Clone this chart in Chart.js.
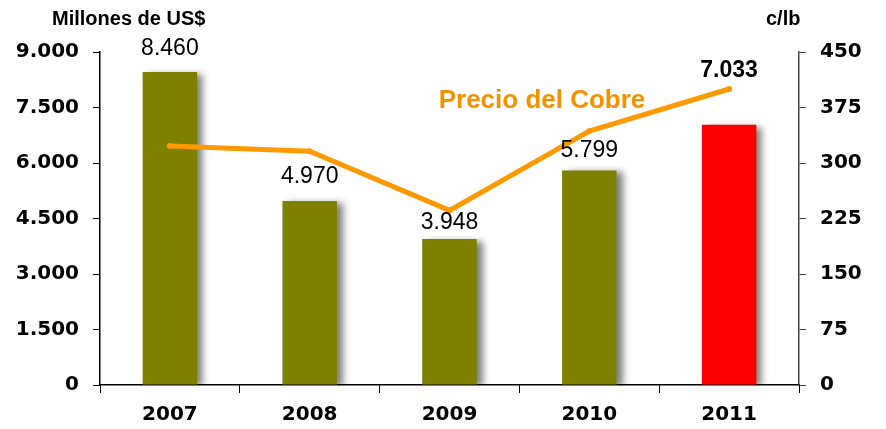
<!DOCTYPE html>
<html>
<head>
<meta charset="utf-8">
<script src="https://cdn.jsdelivr.net/npm/chart.js@4"></script>
<style>
  html, body { margin: 0; padding: 0; background: #fff; }
  #wrap { width: 886px; height: 429px; position: relative; }
</style>
</head>
<body>
<div id="wrap"><canvas id="myChart"></canvas></div>
<script>
// datos
const YEARS = ["2007", "2008", "2009", "2010", "2011"];
const EXPORTS = [8460, 4970, 3948, 5799, 7033]; // millones de US$
const COPPER = [323, 316, 236, 343, 400]; // c/lb
const LEFT_TICKS = [0, 1500, 3000, 4500, 6000, 7500, 9000];
const RIGHT_TICKS = [0, 75, 150, 225, 300, 375, 450];

const OLIVE = "#808000";
const RED = "#ff0000";
const ORANGE = "#ff9900";

const fmt = (v) => v.toLocaleString("de-DE");

// gap encima de cada barra para el rotulo
const labelGap = [17, 18, 10, 13, 48];

const barShadow = {
  id: "barShadow",
  beforeDatasetDraw(chart, args) {
    if (args.index !== 0) return;
    const c = chart.ctx;
    c.save();
    c.shadowColor = "rgba(0,0,0,0.5)";
    c.shadowBlur = 7;
    c.shadowOffsetX = 6;
    c.shadowOffsetY = 2;
  },
  afterDatasetDraw(chart, args) {
    if (args.index !== 0) return;
    chart.ctx.restore();
  },
};

const textos = {
  id: "textos",
  afterDatasetsDraw(chart) {
    const c = chart.ctx;
    const meta = chart.getDatasetMeta(0);
    c.save();
    c.textAlign = "center";
    c.textBaseline = "alphabetic";
    c.fillStyle = "#000";
    meta.data.forEach((bar, i) => {
      const last = i === EXPORTS.length - 1;
      c.font = (last ? "bold " : "") + "23px 'Liberation Sans', Arial, sans-serif";
      c.fillText(fmt(EXPORTS[i]), bar.x, bar.y - labelGap[i]);
    });
    // titulos de ejes
    c.font = "bold 20px 'Liberation Sans', Arial, sans-serif";
    c.textAlign = "left";
    c.fillText("Millones de US$", 52, 25);
    c.fillText("c/lb", 766, 25);
    // rotulo de la serie
    c.font = "bold 26px 'Liberation Sans', Arial, sans-serif";
    c.fillStyle = "#f39200";
    c.textAlign = "center";
    c.fillText("Precio del Cobre", 542, 108);
    c.restore();
  },
};

const tickFont = { family: "'DejaVu Sans', sans-serif", size: 20, weight: "bold" };

new Chart(document.getElementById("myChart"), {
  type: "bar",
  data: {
    labels: YEARS,
    datasets: [
      {
        type: "bar",
        data: EXPORTS,
        backgroundColor: EXPORTS.map((v, i) => (i === EXPORTS.length - 1 ? RED : OLIVE)),
        barPercentage: 0.39,
        categoryPercentage: 1,
        yAxisID: "y",
        order: 1,
      },
      {
        type: "line",
        data: COPPER,
        borderColor: ORANGE,
        backgroundColor: ORANGE,
        borderWidth: 5,
        pointRadius: 3,
        pointBorderWidth: 0,
        tension: 0,
        yAxisID: "y1",
        order: 0,
      },
    ],
  },
  options: {
    responsive: true,
    maintainAspectRatio: false,
    animation: false,
    layout: { padding: { top: 52, left: 0, right: 0, bottom: 0 } },
    plugins: {
      legend: { display: false },
      tooltip: { enabled: false },
    },
    scales: {
      x: {
        afterFit: (s) => { s.height = 44; },
        border: { color: "#000", width: 1.5 },
        grid: { drawOnChartArea: false, tickLength: 8, color: "#000", offset: true },
        ticks: { color: "#000", font: tickFont, padding: 10 },
      },
      y: {
        position: "left",
        min: 0,
        max: 9000,
        afterFit: (s) => { s.width = 100; },
        afterBuildTicks: (s) => { s.ticks = LEFT_TICKS.map((v) => ({ value: v })); },
        border: { color: "#000", width: 1.5 },
        grid: { drawOnChartArea: false, tickLength: 7, color: "#000" },
        ticks: { color: "#000", font: tickFont, padding: 14, callback: (v) => fmt(v) },
      },
      y1: {
        position: "right",
        min: 0,
        max: 450,
        afterFit: (s) => { s.width = 87; },
        afterBuildTicks: (s) => { s.ticks = RIGHT_TICKS.map((v) => ({ value: v })); },
        border: { color: "#444", width: 1.5 },
        grid: { drawOnChartArea: false, tickLength: 7, color: "#444" },
        ticks: { color: "#000", font: tickFont, padding: 14 },
      },
    },
  },
  plugins: [barShadow, textos],
});
</script>
</body>
</html>
